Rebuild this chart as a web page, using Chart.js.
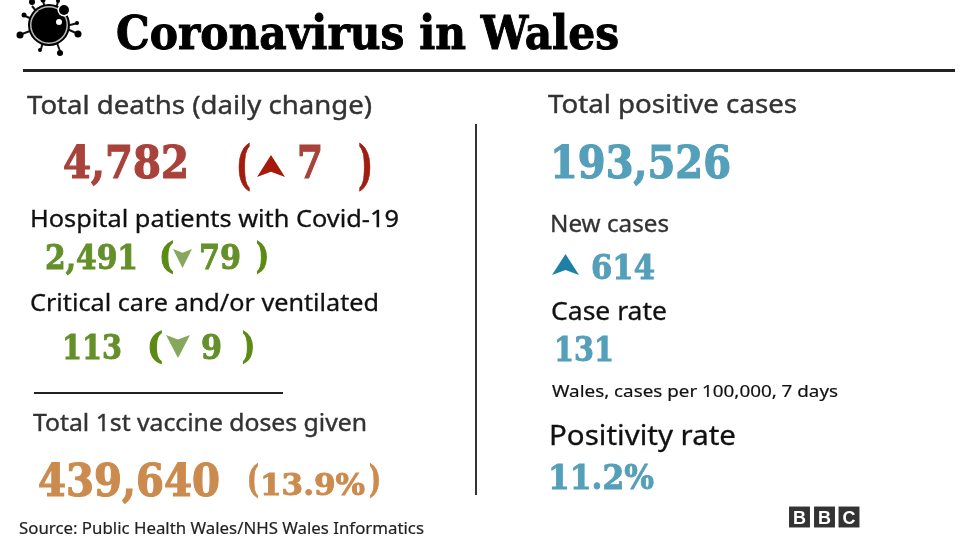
<!DOCTYPE html>
<html>
<head>
<meta charset="utf-8">
<title>Coronavirus in Wales</title>
<script src="https://cdn.jsdelivr.net/npm/chart.js@4"></script>
<style>
html, body { margin: 0; padding: 0; background: #fff; overflow: hidden; }
canvas { display: block; }
</style>
</head>
<body>
<canvas id="statsChart" width="976" height="549"></canvas>
<script>
// values
const titleText = 'Coronavirus in Wales';
const sourceText = 'Source: Public Health Wales/NHS Wales Informatics';
const leftLabels = ['Total deaths (daily change)', 'Hospital patients with Covid-19', 'Critical care and/or ventilated', 'Total 1st vaccine doses given'];
const rightLabels = ['Total positive cases', 'New cases', 'Case rate', 'Wales, cases per 100,000, 7 days', 'Positivity rate'];
const leftTotals = [4782, 2491, 113, 439640];
const leftChanges = [7, 79, 9];
const vaccinePercent = 13.9;
const rightValues = [193526, 614, 131];
const positivityPercent = 11.2;
const logoLetters = ['B', 'B', 'C'];

const fmt = v => v.toLocaleString('en-GB');

// layout, in page pixels (the hidden axes run 0-976 and 0-549)
const RED = '#a8423a', DARKRED = '#a01e10', GREEN = '#649029', DARKGREEN = '#5c8a14', ORANGE = '#cc8b4e', BLUE = '#549fb9';
const serif = s => `bold ${s}px "DejaVu Serif"`;
const sans = s => `${s}px "Noto Sans"`;

// [text, x, baseline, width, font, colour, extra stroke]
const textRows = [
  [titleText, 116, 49, 503, serif(47), '#000', 1],
  [leftLabels[0], 27, 114, 345, sans(26), '#333', 0.4],
  [fmt(leftTotals[0]), 63, 178, 126, serif(44), RED, 1.2],
  ['(', 236, 183, 15, serif(52), DARKRED, 0.8],
  [fmt(leftChanges[0]), 297, 178, 26, serif(44), RED, 1.2],
  [')', 358, 183, 15, serif(52), DARKRED, 0.8],
  [leftLabels[1], 30, 227, 369, sans(24), '#111', 0.3],
  [fmt(leftTotals[1]), 45, 269, 93, serif(33), GREEN, 0.9],
  ['(', 159, 268, 15, serif(36), DARKGREEN, 1.2],
  [fmt(leftChanges[1]), 199, 269, 42, serif(33), GREEN, 0.9],
  [')', 256, 268, 13, serif(36), DARKGREEN, 1.2],
  [leftLabels[2], 30, 311, 349, sans(24), '#111', 0.3],
  [fmt(leftTotals[2]), 62, 359, 60, serif(33), GREEN, 0.9],
  ['(', 147, 358, 16, serif(36), DARKGREEN, 1.2],
  [fmt(leftChanges[2]), 201, 359, 21, serif(33), GREEN, 0.9],
  [')', 242, 358, 13, serif(36), DARKGREEN, 1.2],
  [leftLabels[3], 33, 431, 334, sans(24), '#333', 0.4],
  [fmt(leftTotals[3]), 38, 496, 182, serif(44), ORANGE, 1.2],
  ['(', 247, 492, 12, serif(38), ORANGE, 1],
  [`${vaccinePercent}%`, 260, 495, 105, serif(30), ORANGE, 0.9],
  [')', 369, 492, 12, serif(38), ORANGE, 1],
  [sourceText, 19, 534, 405, sans(17), '#222', 0.2],
  [rightLabels[0], 548, 113, 249, sans(26), '#333', 0.4],
  [fmt(rightValues[0]), 550, 178, 181, serif(44), BLUE, 1.2],
  [rightLabels[1], 550, 232, 119, sans(23), '#333', 0.3],
  [fmt(rightValues[1]), 591, 279, 64, serif(33), BLUE, 0.9],
  [rightLabels[2], 551, 320, 116, sans(25), '#111', 0.3],
  [fmt(rightValues[2]), 554, 361, 60, serif(33), BLUE, 0.9],
  [rightLabels[3], 552, 397, 286, sans(17), '#111', 0.2],
  [rightLabels[4], 549, 445, 187, sans(27), '#111', 0.3],
  [`${positivityPercent}%`, 548, 489, 106, serif(33), BLUE, 0.9]
];

const ruleLines = [
  [23, 70.5, 955, 70.5, 3, '#222'],
  [34, 393, 283, 393, 2, '#222'],
  [476, 124, 476, 495, 2, '#333']
];
const upArrows = [[271, 166, 28, 22, '#a51a0b'], [565.5, 264.5, 27, 21, '#1f80a6']];
const downArrows = [[182.5, 258.5, 19, 19, '#86a75c'], [178, 346.5, 24, 23, '#86a75c']];
const virusBlobs = [[64, 10, 5], [20, 35, 3.5], [78, 34, 3.5], [60, 53, 3], [40, 50, 2], [24, 15, 2.5], [77, 23, 2], [32, 2, 3], [43, 0, 2.5], [58, 1, 2]];
const virusHoles = [[59, 22, 3], [64, 10, 6.5]];
const virusSpikes = [[32, 6, 37, 12], [43, 1, 45, 8], [58, 2, 56, 8], [25, 16, 32, 19], [78, 23, 70, 25], [22, 34, 30, 31], [76, 33, 67, 29], [60, 51, 57, 43], [41, 49, 43, 42]];
const logoCentres = [799.5, 824.5, 849];

function arrowImage(w, h, down, colour) {
  const c = document.createElement('canvas');
  c.width = w; c.height = h;
  const g = c.getContext('2d');
  g.fillStyle = colour;
  g.beginPath();
  if (down) {
    g.moveTo(0, 0); g.lineTo(w / 2, h * 0.2); g.lineTo(w, 0); g.lineTo(w / 2, h);
  } else {
    g.moveTo(w / 2, 0); g.lineTo(w, h); g.lineTo(w / 2, h * 0.76); g.lineTo(0, h);
  }
  g.closePath();
  g.fill();
  return c;
}

const datasets = [];
const line = (x1, y1, x2, y2, width, colour, order) => datasets.push({
  data: [{ x: x1, y: y1 }, { x: x2, y: y2 }], showLine: true, pointRadius: 0,
  borderColor: colour, borderWidth: width, order: order
});
const dots = (list, colour, order) => datasets.push({
  data: list.map(b => ({ x: b[0], y: b[1] })), showLine: false,
  pointRadius: list.map(b => b[2]), backgroundColor: colour, borderWidth: 0, order: order
});

ruleLines.forEach(r => line(r[0], r[1], r[2], r[3], r[4], r[5], 9));
virusSpikes.forEach(s => line(s[0], s[1], s[2], s[3], 2, '#111', 9));
dots(virusBlobs, '#000', 8);
dots([[49, 25, 21]], '#000', 7);
dots([[49, 25, 19]], '#bbb', 6);
dots([[49, 25, 17.5]], '#000', 5);
dots(virusHoles, '#fff', 4);
dots([[64, 10, 5]], '#000', 3);

upArrows.concat(downArrows).forEach((a, i) => datasets.push({
  data: [{ x: a[0], y: a[1] }], showLine: false,
  pointStyle: arrowImage(a[2], a[3], i >= upArrows.length, a[4]), order: 2
}));
datasets.push({
  data: logoCentres.map(x => ({ x: x, y: 517 })), showLine: false,
  pointStyle: 'rect', pointRadius: 14.8, backgroundColor: '#333', borderWidth: 0, order: 2
});

const textPlugin = {
  id: 'statText',
  afterDatasetsDraw(chart) {
    const ctx = chart.ctx, sx = chart.scales.x, sy = chart.scales.y;
    ctx.save();
    ctx.textBaseline = 'alphabetic';
    ctx.textAlign = 'left';
    textRows.forEach(t => {
      ctx.save();
      ctx.font = t[4];
      ctx.fillStyle = t[5];
      ctx.strokeStyle = t[5];
      ctx.lineWidth = t[6];
      const natural = ctx.measureText(t[0]).width;
      ctx.translate(sx.getPixelForValue(t[1]), sy.getPixelForValue(t[2]));
      ctx.scale(t[3] / natural, 1);
      ctx.fillText(t[0], 0, 0);
      if (t[6]) ctx.strokeText(t[0], 0, 0);
      ctx.restore();
    });
    ctx.font = 'bold 18px "Liberation Sans"';
    ctx.fillStyle = '#fff';
    ctx.textAlign = 'center';
    logoLetters.forEach((l, i) => ctx.fillText(l, sx.getPixelForValue(logoCentres[i]), sy.getPixelForValue(523.5)));
    ctx.restore();
  }
};

new Chart(document.getElementById('statsChart'), {
  type: 'scatter',
  data: { datasets: datasets },
  plugins: [textPlugin],
  options: {
    responsive: false,
    animation: false,
    events: [],
    layout: { padding: 0, autoPadding: false },
    plugins: { legend: { display: false }, tooltip: { enabled: false } },
    scales: {
      x: { type: 'linear', min: 0, max: 976, display: false },
      y: { type: 'linear', min: 0, max: 549, reverse: true, display: false }
    }
  }
});
</script>
</body>
</html>
